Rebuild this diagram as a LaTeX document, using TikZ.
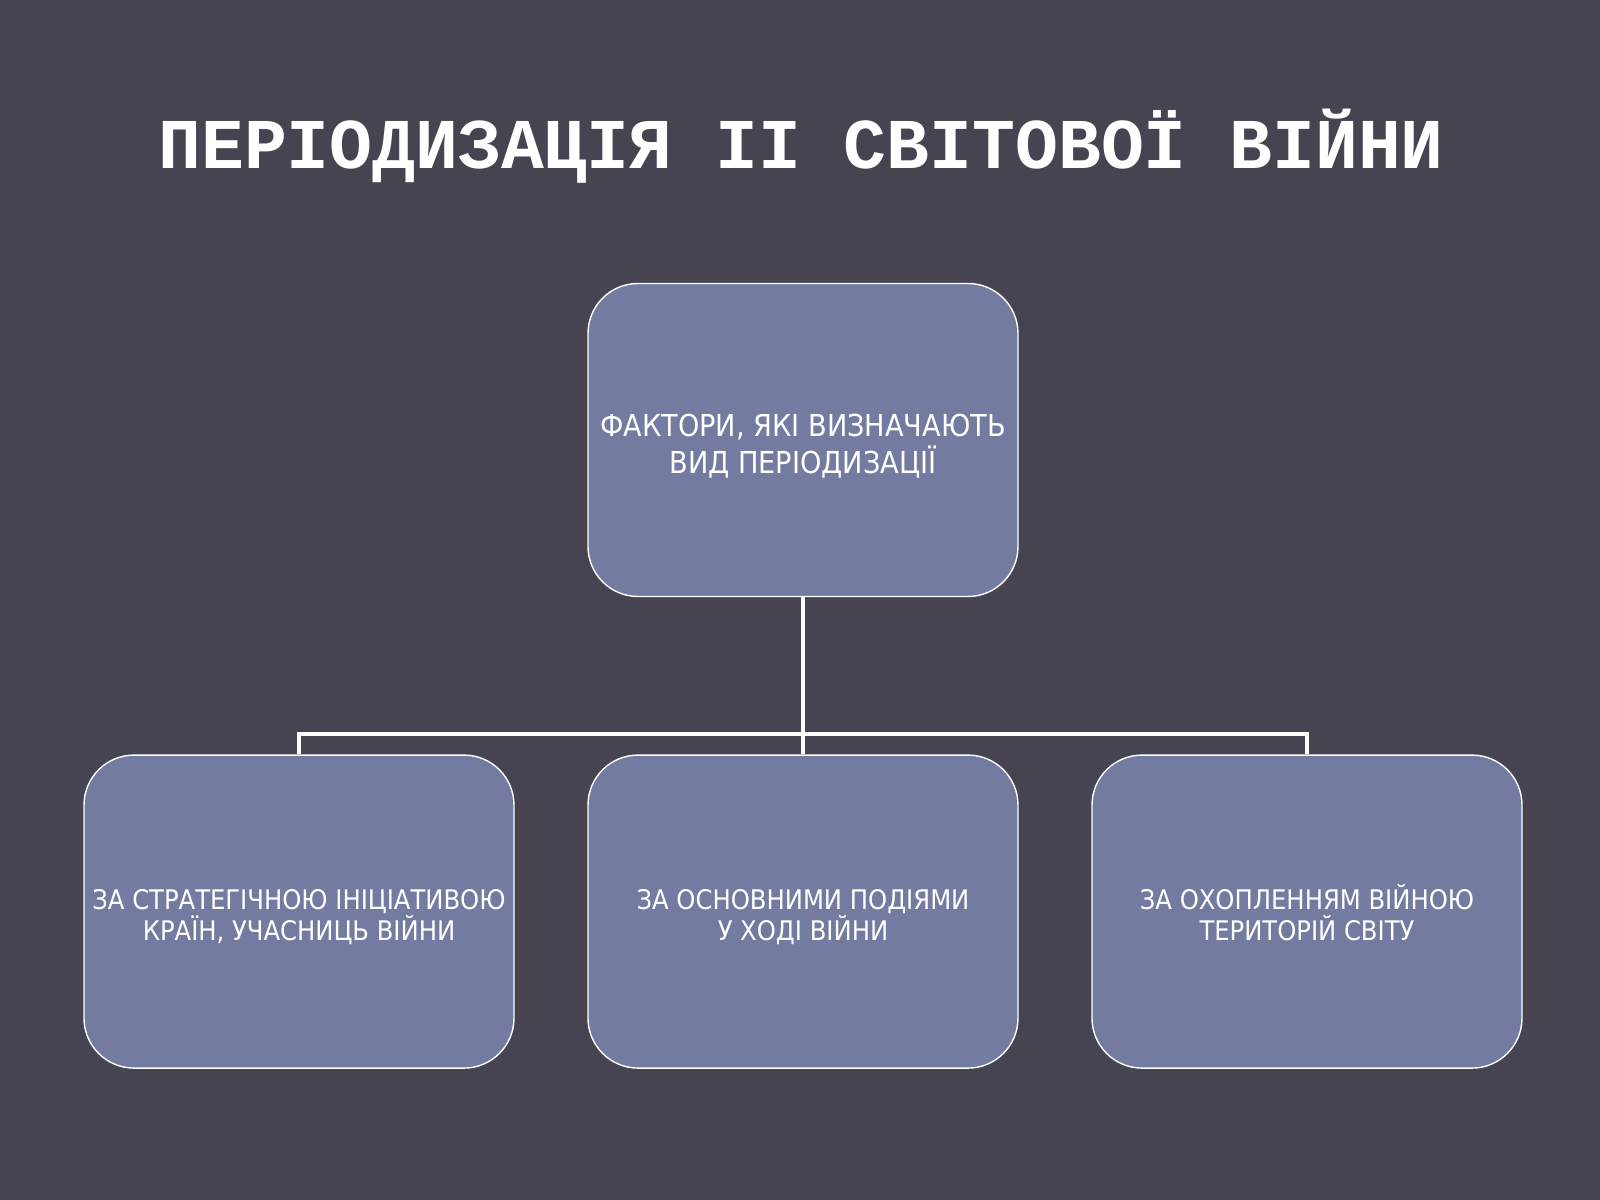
\documentclass[tikz,border=0pt]{standalone}
\usepackage{fontspec}
\setmainfont{DejaVu Sans Condensed}
\newfontfamily\titlefont{Liberation Mono}
\usepackage{tikz}
\usetikzlibrary{positioning}

\definecolor{slidebg}{RGB}{69,68,80}
\definecolor{boxfill}{RGB}{115,124,160}

% two centred lines with fixed outer height and depth
\newcommand{\twolines}[2]{\rule{0pt}{1.39em}#1\\#2\rule[-0.4em]{0pt}{0.4em}}

\tikzset{
	factorbox/.style={draw=white, line width=1pt, fill=boxfill, rounded corners=1.25cm,
		minimum width=10.75cm, minimum height=7.825cm, align=center, text=white,
		font=\fontsize{19.2}{22.5}\selectfont, inner sep=0pt},
	topbox/.style={factorbox, font=\fontsize{21.5}{26.5}\selectfont},
	tree/.style={draw=white, line width=2.2pt}
}

\begin{document}
\begin{tikzpicture}
	%\draw[help lines] (0,0) grid (40,30);
	\fill[slidebg] (0,0) rectangle (40,30);
	\useasboundingbox (0,0) rectangle (40,30);
	
	\node (T) at (20.03,26.35) {\titlefont\bfseries\fontsize{50.8}{56}\selectfont\textcolor{white}{ПЕРІОДИЗАЦІЯ II СВІТОВОЇ ВІЙНИ}};
	
	\node[topbox] (FV) at (20.075,19) {\twolines{ФАКТОРИ, ЯКІ ВИЗНАЧАЮТЬ}{ВИД ПЕРІОДИЗАЦІЇ}};
	\node[factorbox] (SI) at (7.475,7.21) {\twolines{ЗА СТРАТЕГІЧНОЮ ІНІЦІАТИВОЮ}{КРАЇН, УЧАСНИЦЬ ВІЙНИ}};
	\node[factorbox] (OP) at (20.075,7.21) {\twolines{ЗА ОСНОВНИМИ ПОДІЯМИ}{У ХОДІ ВІЙНИ}};
	\node[factorbox] (OV) at (32.675,7.21) {\twolines{ЗА ОХОПЛЕННЯМ ВІЙНОЮ}{ТЕРИТОРІЙ СВІТУ}};
	
	%branching of the tree
	\coordinate (J) at (20.075,11.65);
	\draw[tree] (FV.south) -- (J);
	\draw[tree] (SI.north) |- (J) -| (OV.north);
	\draw[tree] (J) -- (OP.north);
\end{tikzpicture}
\end{document}
